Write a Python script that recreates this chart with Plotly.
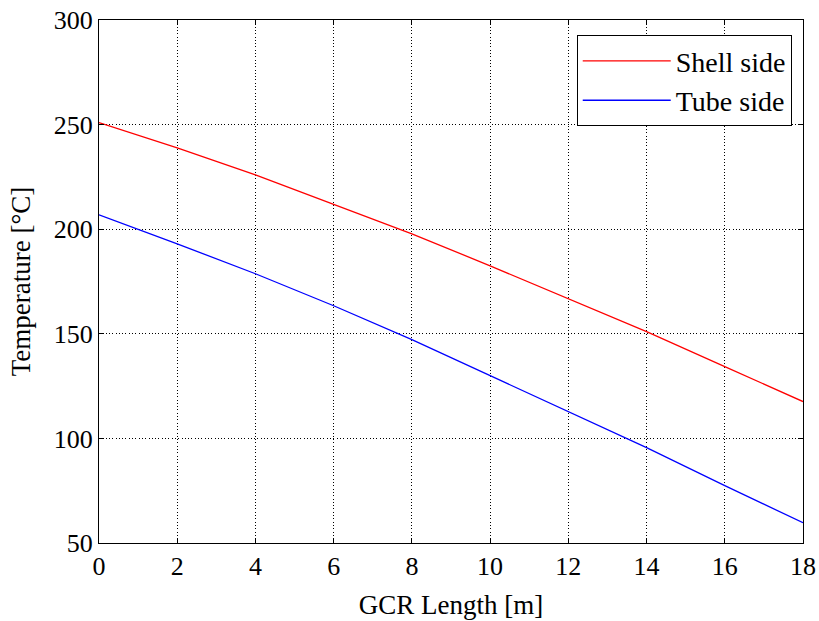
import plotly.graph_objects as go

length_m = [0, 2, 4, 6, 8, 10, 12, 14, 16, 18]
shell_side = [251.0, 238.9, 226.0, 212.0, 197.8, 182.5, 166.7, 151.0, 134.3, 117.6]
tube_side = [206.9, 193.0, 178.7, 163.4, 147.2, 130.0, 112.8, 95.6, 77.4, 59.7]
x_ticks = [0, 2, 4, 6, 8, 10, 12, 14, 16, 18]
y_ticks = [50, 100, 150, 200, 250, 300]

FONT = "Liberation Serif"

fig = go.Figure()
fig.add_trace(go.Scatter(x=length_m, y=shell_side, mode="lines", name="Shell side",
                         line=dict(color="#ff0000", width=1.3)))
fig.add_trace(go.Scatter(x=length_m, y=tube_side, mode="lines", name="Tube side",
                         line=dict(color="#0000ff", width=1.3)))

axis_common = dict(
    showline=True, linecolor="black", linewidth=1.3, mirror="ticks",
    ticks="inside", ticklen=5, tickcolor="black", tickwidth=1,
    showgrid=True, gridcolor="black", gridwidth=1, griddash="1px,2.3px",
    zeroline=False, automargin=False,
    tickfont=dict(family=FONT, size=26, color="black"),
)

fig.update_layout(
    width=819, height=621,
    margin=dict(l=99, r=16, t=20, b=78),
    paper_bgcolor="white", plot_bgcolor="white",
    font=dict(family=FONT, size=26, color="black"),
    xaxis=dict(range=[0, 18], tickvals=x_ticks,
               title=dict(text="GCR Length [m]", font=dict(family=FONT, size=27), standoff=14),
               **axis_common),
    yaxis=dict(range=[50, 300], tickvals=y_ticks,
               title=dict(text="Temperature [°C]", font=dict(family=FONT, size=27), standoff=15),
               **axis_common),
    legend=dict(x=0.984, y=0.971, xanchor="right", yanchor="top",
                bgcolor="white", bordercolor="black", borderwidth=1,
                font=dict(family=FONT, size=28), itemwidth=88,
                tracegroupgap=0),
    showlegend=True,
)

fig.write_html("out.html")
